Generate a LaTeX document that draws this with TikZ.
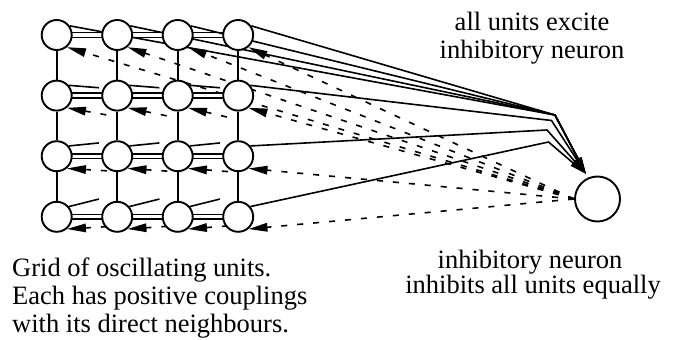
\documentclass[tikz,border=0pt]{standalone}
\usepackage{fontspec}
\setmainfont{Liberation Serif}
\usetikzlibrary{arrows.meta,calc}
\pgfdeclarelayer{wires}
\pgfsetlayers{wires,main}

\begin{document}
\begin{tikzpicture}[x=1pt,y=-1pt,
  unit/.style={circle,draw,fill=white,line width=1.9pt,minimum size=30pt,inner sep=0pt},
  inhib/.style={circle,draw,fill=white,line width=1.9pt,minimum size=45pt,inner sep=0pt},
  link/.style={line width=1.6pt},
  excite/.style={line width=1.6pt,-{Triangle[length=17pt,width=7pt]}},
  inhibit/.style={line width=1.6pt,dash pattern=on 6pt off 10pt,-{Triangle[length=19pt,width=8.5pt]}},
  caption/.style={font=\rmfamily\fontsize{26.5}{27}\selectfont,inner sep=0pt},
]
\useasboundingbox (0,0) rectangle (678,340);

% 4x4 grid of oscillating units
\foreach \c in {1,...,4}
  \foreach \r in {1,...,4}
    \node[unit] (u-\c-\r) at ({56.7+60.5*(\c-1)},{35+60.6*(\r-1)}) {};

% inhibitory neuron
\node[inhib] (inh) at (597.5,199) {};

% bends of the excitatory wires and the common arrow point
\coordinate (w1) at (555,115);
\coordinate (w2) at (551.5,120.5);
\coordinate (w3) at (547,130);
\coordinate (w4) at (548.5,142);
\coordinate (tip) at ($(inh.center)+(-11.5,-25)$);

\begin{pgfonlayer}{wires}
  % neighbour couplings: double horizontal, single vertical
  \foreach \r in {1,...,4}
    \foreach \c/\n in {1/2,2/3,3/4} {
      \draw[link] ([yshift=-2.4pt]u-\c-\r.center) -- ([yshift=-2.4pt]u-\n-\r.center);
      \draw[link] ([yshift=2.4pt]u-\c-\r.center) -- ([yshift=2.4pt]u-\n-\r.center);
    }
  \foreach \c in {1,...,4}
    \foreach \r/\n in {1/2,2/3,3/4}
      \draw[link] (u-\c-\r) -- (u-\c-\n);

  % excitation of the inhibitory neuron
  \foreach \c in {1,...,4}
    \draw[excite] (u-\c-1.35) -- (w1) -- (tip);
  \foreach \r in {2,3,4}
    \draw[excite] (u-4-\r.40) -- (w\r) -- (tip);
  \foreach \r/\dy in {2/2.4,3/-3,4/-7.5}
    \foreach \c in {1,2,3}
      \draw[link] (u-\c-\r.40) -- ++(30,\dy);

  % inhibition back onto the units
  \foreach \c in {1,...,4}
    \draw[inhibit] (inh.west) -- (u-\c-1.-50);
  \foreach \r in {2,3,4}
    \draw[inhibit] (inh.west) -- (u-4-\r.-50);
  \foreach \r in {2,3,4}
    \foreach \c in {1,2,3}
      \draw[inhibit] ($(u-\c-\r.-50)!40pt!(inh.west)$) -- (u-\c-\r.-50);
\end{pgfonlayer}

% captions
\node[caption,anchor=base] (exc1) at (532,30.7) {all units excite};
\node[caption,anchor=base] (exc2) at (532,58.3) {inhibitory neuron};
\node[caption,anchor=base] (inh1) at (530,268.3) {inhibitory neuron};
\node[caption,anchor=base] (inh2) at (533,293.8) {inhibits all units equally};
\node[caption,anchor=base west] (grid1) at (12,276.7) {Grid of oscillating units.};
\node[caption,anchor=base west] (grid2) at (12,304.3) {Each has positive couplings};
\node[caption,anchor=base west] (grid3) at (12,332) {with its direct neighbours.};
\end{tikzpicture}
\end{document}
